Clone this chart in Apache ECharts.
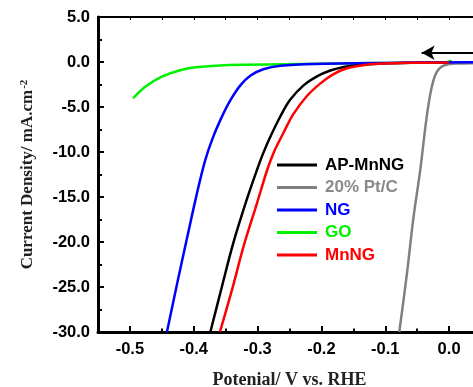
<!DOCTYPE html>
<html>
<head>
<meta charset="utf-8">
<script src="https://cdn.jsdelivr.net/npm/echarts@6/dist/echarts.min.js"></script>
<style>
  html, body { margin: 0; padding: 0; background: #fff; }
  #main { width: 473px; height: 387px; }
</style>
</head>
<body>
<div id="main"></div>
<script>
// LSV curves, [potential V vs RHE, current density mA/cm2]
var apMnNG = [[-0.374, -30], [-0.356, -25.0], [-0.338, -20.1], [-0.317, -15.3], [-0.301, -12.0],
  [-0.291, -10.1], [-0.280, -8.3], [-0.264, -6.0], [-0.249, -4.2], [-0.228, -2.6], [-0.207, -1.6],
  [-0.186, -0.95], [-0.165, -0.55], [-0.14, -0.3], [-0.11, -0.18], [-0.06, -0.09], [0.0, -0.05]]
var ptC = [[-0.078, -30], [-0.066, -23.5], [-0.056, -17.4], [-0.045, -11.9], [-0.036, -6.6],
  [-0.029, -3.4], [-0.022, -1.5], [-0.015, -0.7], [-0.006, -0.33], [0.01, -0.18], [0.05, -0.12]]
var ng = [[-0.442, -30], [-0.426, -24.6], [-0.41, -19.4], [-0.395, -14.6], [-0.382, -10.9],
  [-0.37, -8.4], [-0.356, -6.1], [-0.343, -4.3], [-0.327, -2.6], [-0.311, -1.5], [-0.291, -0.8],
  [-0.264, -0.42], [-0.212, -0.22], [-0.1, -0.1], [0.05, -0.03]]
var go = [[-0.495, -4.03], [-0.476, -2.74], [-0.45, -1.63], [-0.424, -0.97], [-0.397, -0.59],
  [-0.345, -0.33], [-0.257, -0.25], [-0.15, -0.15], [-0.05, -0.08], [-0.005, -0.02], [0.004, 0.15]]
var mnNG = [[-0.359, -30], [-0.340, -25.3], [-0.322, -20.5], [-0.301, -15.7], [-0.285, -12.0],
  [-0.275, -10.1], [-0.259, -7.8], [-0.244, -5.8], [-0.223, -3.8], [-0.202, -2.4], [-0.181, -1.35],
  [-0.16, -0.7], [-0.135, -0.35], [-0.11, -0.2], [-0.06, -0.09], [0.0, -0.05]]

var xMajorTicks = [-0.5, -0.4, -0.3, -0.2, -0.1, 0.0]
var xMinorTicks = [-0.55, -0.45, -0.35, -0.25, -0.15, -0.05, 0.05]
var legendNames = ['AP-MnNG', '20% Pt/C', 'NG', 'GO', 'MnNG']
var scanArrow = [[0.05, 1.03], [-0.043, 1.03]]

var sans = 'Liberation Sans'
var serif = 'Liberation Serif'

var myChart = echarts.init(document.getElementById('main'))

function line(name, data, color, extra) {
  var s = {
    name: name,
    type: 'line',
    data: data,
    smooth: 0.35,
    symbol: 'none',
    color: color,
    lineStyle: { width: 2.5, color: color }
  }
  return Object.assign(s, extra || {})
}

var option = {
  backgroundColor: '#fff',
  animation: false,
  grid: { left: 98, top: 17, bottom: 55, right: -8, outerBoundsMode: 'none', containLabel: false },
  legend: {
    orient: 'vertical',
    left: 272,
    top: 151,
    icon: 'rect',
    itemWidth: 40,
    itemHeight: 3,
    itemGap: 4.5,
    textStyle: { fontFamily: sans, fontWeight: 'bold', fontSize: 17, lineHeight: 18, padding: [0, 0, 0, 3] },
    data: [
      { name: legendNames[0], textStyle: { color: '#000' } },
      { name: legendNames[1], textStyle: { color: '#8a8a8a' } },
      { name: legendNames[2], textStyle: { color: '#0000ff' } },
      { name: legendNames[3], textStyle: { color: '#00f000' } },
      { name: legendNames[4], textStyle: { color: '#ff0000' } }
    ]
  },
  xAxis: [
    {
      type: 'value',
      position: 'bottom',
      min: -0.55,
      max: 0.05,
      name: 'Potenial/ V vs. RHE',
      nameLocation: 'middle',
      nameGap: 39,
      nameTextStyle: { fontFamily: serif, fontWeight: 'bold', fontSize: 18, color: '#222' },
      axisLine: { onZero: false, lineStyle: { color: '#000', width: 3 } },
      axisTick: { inside: true, length: 6, customValues: xMajorTicks, lineStyle: { color: '#000', width: 2 } },
      axisLabel: {
        customValues: xMajorTicks,
        margin: 9,
        fontFamily: sans, fontWeight: 'bold', fontSize: 16.5, color: '#000',
        formatter: function(v) { return v.toFixed(1) }
      },
      splitLine: { show: false }
    },
    {
      type: 'value',
      position: 'bottom',
      min: -0.55,
      max: 0.05,
      axisLine: { show: false, onZero: false },
      axisTick: { inside: true, length: 3.5, customValues: xMinorTicks, lineStyle: { color: '#000', width: 2 } },
      axisLabel: { show: false },
      splitLine: { show: false }
    },
    {
      type: 'value',
      position: 'top',
      min: -0.55,
      max: 0.05,
      interval: 0.05,
      axisLine: { onZero: false, lineStyle: { color: '#000', width: 2 } },
      axisTick: { inside: true, length: 3, lineStyle: { color: '#000', width: 1 } },
      axisLabel: { show: false },
      splitLine: { show: false }
    }
  ],
  yAxis: {
    type: 'value',
    min: -30,
    max: 5,
    interval: 5,
    name: '{a|Current Density/ mA.cm}{s|-2}',
    nameLocation: 'middle',
    nameRotate: 90,
    nameGap: 62,
    nameTextStyle: {
      rich: {
        a: { fontFamily: serif, fontWeight: 'bold', fontSize: 17, color: '#222' },
        s: { fontFamily: serif, fontWeight: 'bold', fontSize: 11, color: '#222', verticalAlign: 'top', padding: [0, 0, 6, 1] }
      }
    },
    axisLine: { onZero: false, lineStyle: { color: '#000', width: 3 } },
    axisTick: { inside: true, length: 6, lineStyle: { color: '#000', width: 2 } },
    minorTick: { show: true, splitNumber: 2, length: 4, lineStyle: { color: '#000', width: 2 } },
    axisLabel: {
      margin: 8,
      fontFamily: sans, fontWeight: 'bold', fontSize: 16.5, color: '#000',
      formatter: function(v) { return v.toFixed(1) }
    },
    splitLine: { show: false }
  },
  series: [
    line(legendNames[1], ptC, '#808080'),
    line(legendNames[3], go, '#00f000'),
    line(legendNames[0], apMnNG, '#000000', {
      markLine: {
        silent: true,
        symbol: ['none', 'arrow'],
        symbolSize: [11, 13],
        label: { show: false },
        lineStyle: { color: '#000', width: 2, type: 'solid' },
        data: [[{ coord: scanArrow[0] }, { coord: scanArrow[1] }]]
      }
    }),
    line(legendNames[2], ng, '#0000ff'),
    line(legendNames[4], mnNG, '#ff0000')
  ]
}

myChart.setOption(option)
</script>
</body>
</html>
